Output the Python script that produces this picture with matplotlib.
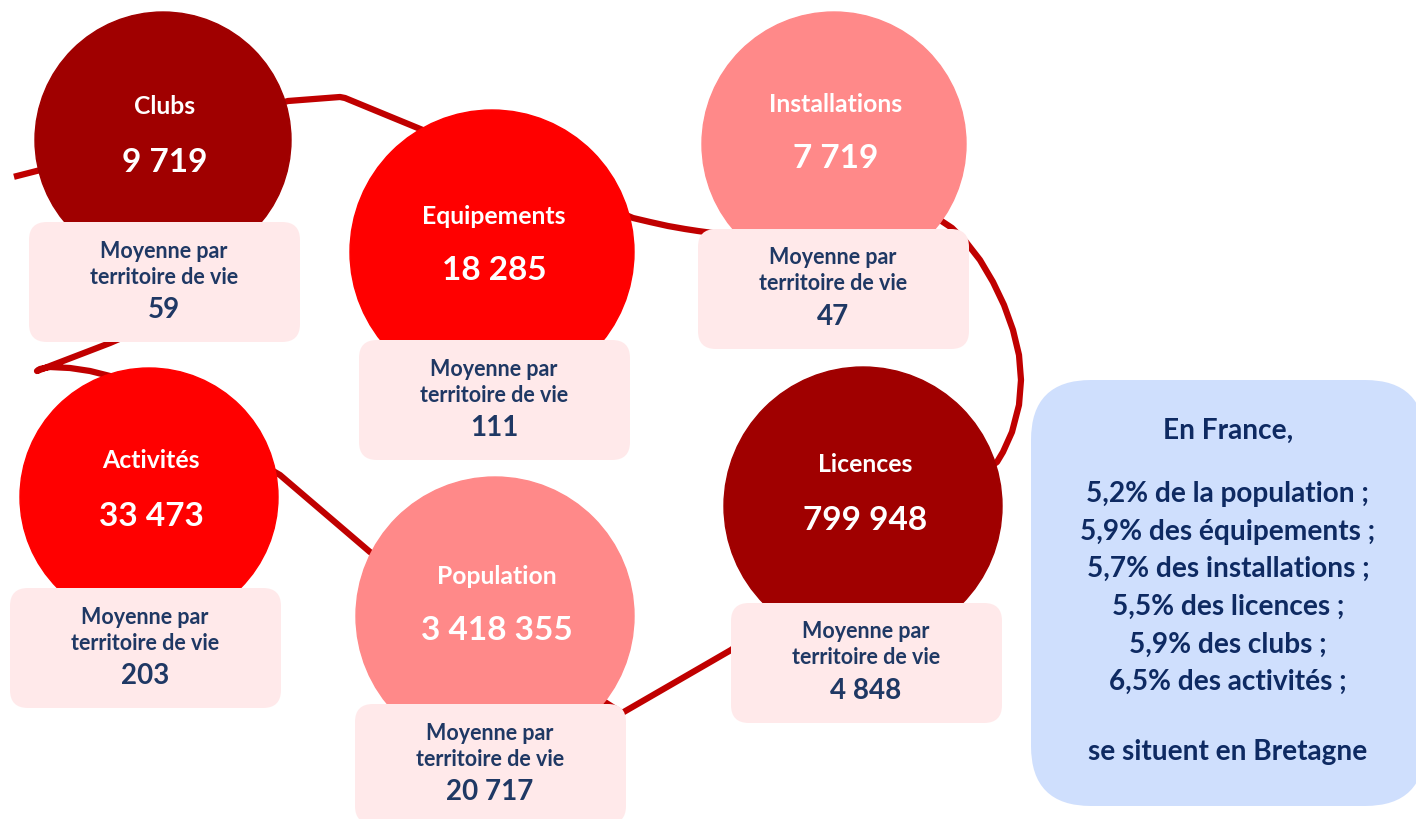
import matplotlib.pyplot as plt
from matplotlib.patches import Circle, FancyBboxPatch

# data
names = ["Clubs", "Equipements", "Installations", "Activités", "Population", "Licences"]
totals = [9719, 18285, 7719, 33473, 3418355, 799948]
averages = [59, 111, 47, 203, 20717, 4848]
france_pct = [5.2, 5.9, 5.7, 5.5, 5.9, 6.5]
france_items = ["de la population", "des équipements", "des installations",
                "des licences", "des clubs", "des activités"]

# layout (pixel coords, y down)
centers = [(163, 140), (492, 252), (834, 144), (149, 497), (495, 616), (863, 506)]
radii = [128, 142, 132, 129, 139, 139]
label_y = [107, 216, 104, 461, 576, 465]
boxes = [(29, 222), (359, 340), (698, 229), (10, 588), (355, 704), (731, 603)]
colors = ["#A00000", "#FF0000", "#FF8989", "#FF0000", "#FF8989", "#A00000"]

path_x = [17, 60, 288, 340, 345, 430, 633, 650, 668, 685, 698, 720, 800, 900, 937,
          952, 966, 980, 993, 1004, 1013, 1019, 1021, 1019, 1012, 1003, 997,
          731, 622, 370, 280, 110, 90, 70, 50, 40, 37, 110, 140]
path_y = [176, 165, 101, 97, 98, 133, 218, 222, 226, 229, 231, 234, 240, 235, 218,
          228, 242, 260, 282, 305, 330, 355, 380, 405, 432, 452, 462,
          650, 713, 552, 475, 376, 371, 368, 367, 369, 371, 343, 330]

NAVY = "#1F3864"
FONT = "Lato"


def fmt(v):
    return f"{v:,}".replace(",", " ")


fig = plt.figure(figsize=(14.16, 8.19), dpi=100)
ax = fig.add_axes([0, 0, 1, 1])
ax.set_xlim(0, 1416)
ax.set_ylim(819, 0)
ax.axis("off")

ax.plot(path_x, path_y, color="#C00000", lw=4.5, solid_joinstyle="round", zorder=1)

for i, name in enumerate(names):
    cx, cy = centers[i]
    ax.add_patch(Circle((cx, cy), radii[i], color=colors[i], zorder=2))
    ax.text(cx + 2, label_y[i], name, color="white", fontsize=17.8, fontweight="bold",
            family=FONT, ha="center", va="center", zorder=4)
    ax.text(cx + 2, label_y[i] + 55, fmt(totals[i]), color="white", fontsize=24,
            fontweight="bold", family=FONT, ha="center", va="center", zorder=4)

    bx, by = boxes[i]
    ax.add_patch(FancyBboxPatch((bx, by), 271, 120, boxstyle="round,pad=0,rounding_size=18",
                                fc="#FFE9EA", ec="none", zorder=3))
    tx = bx + 135
    ax.text(tx, by + 29, "Moyenne par", color=NAVY, fontsize=15.5, fontweight="bold",
            family=FONT, ha="center", va="center", zorder=4)
    ax.text(tx, by + 55, "territoire de vie", color=NAVY, fontsize=15.5, fontweight="bold",
            family=FONT, ha="center", va="center", zorder=4)
    ax.text(tx, by + 88, fmt(averages[i]), color=NAVY, fontsize=20, fontweight="bold",
            family=FONT, ha="center", va="center", zorder=4)

# France summary box
ax.add_patch(FancyBboxPatch((1031, 380), 394, 426, boxstyle="round,pad=0,rounding_size=60",
                            fc="#CFDFFD", ec="none", zorder=3))
BLUE = "#0E2A62"
ax.text(1228, 431, "En France,", color=BLUE, fontsize=20.2, fontweight="bold",
        family=FONT, ha="center", va="center", zorder=4)
for i, (p, item) in enumerate(zip(france_pct, france_items)):
    line = f"{p:.1f}".replace(".", ",") + f"% {item} ;"
    ax.text(1228, 494 + i * 37.6, line, color=BLUE, fontsize=20.2, fontweight="bold",
            family=FONT, ha="center", va="center", zorder=4)
ax.text(1228, 752, "se situent en Bretagne", color=BLUE, fontsize=20.2, fontweight="bold",
        family=FONT, ha="center", va="center", zorder=4)

fig.savefig("out.png", dpi=100)
